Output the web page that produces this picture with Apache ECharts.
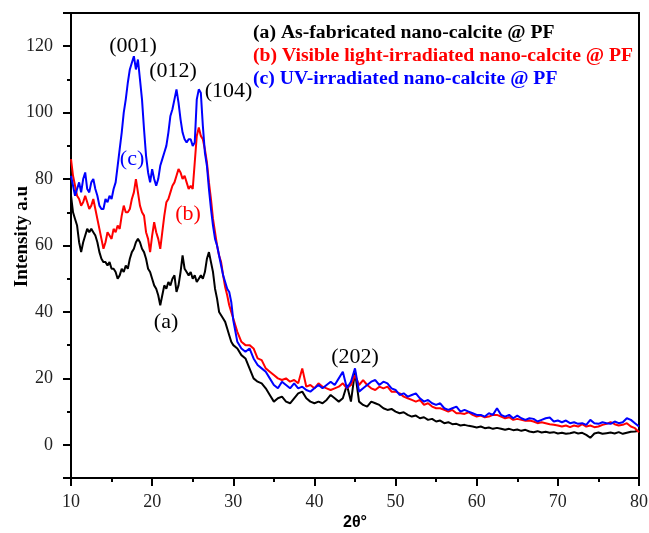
<!DOCTYPE html>
<html><head><meta charset="utf-8">
<script src="https://cdn.jsdelivr.net/npm/echarts@6/dist/echarts.min.js"></script>
<style>html,body{margin:0;padding:0;background:#fff}#chart{width:649px;height:533px}</style>
</head><body><div id="chart"></div>
<script>
// 2θ sampling positions (degrees)
const twoTheta = [
  10,10.25,10.5,10.75, 11,11.25,11.5,11.75, 12,12.25,12.5,12.75, 13,13.25,13.5,13.75,
  14,14.25,14.5,14.75, 15,15.25,15.5,15.75, 16,16.25,16.5,16.75, 17,17.25,17.5,17.75,
  18,18.25,18.5,18.75, 19,19.25,19.5,19.75, 20,20.25,20.5,20.75, 21,21.25,21.5,21.75,
  22,22.25,22.5,22.75, 23,23.25,23.5,23.75, 24,24.25,24.5,24.75, 25,25.25,25.5,25.75,
  26,26.25,26.5,26.75, 27,27.25,27.5,27.75, 28,28.25,28.5,28.75, 29,29.25,29.5,29.75, 30,
  30.5,31,31.5,32,32.5,33,33.5,34,34.5,
  35,35.5,36,36.5,37,37.5,38,38.5,39,39.5,
  40,40.5,41,41.5,42,42.5,43,43.5,44,44.5,
  45,45.5,46,46.5,47,47.5,48,48.5,49,49.5,
  50,50.5,51,51.5,52,52.5,53,53.5,54,54.5,
  55,55.5,56,56.5,57,57.5,58,58.5,59,59.5,
  60,60.5,61,61.5,62,62.5,63,63.5,64,64.5,
  65,65.5,66,66.5,67,67.5,68,68.5,69,69.5,
  70,70.5,71,71.5,72,72.5,73,73.5,74,74.5,
  75,75.5,76,76.5,77,77.5,78,78.5,79,79.5,
  80
];

const seriesNames = [
  '(a) As-fabricated nano-calcite @ PF',
  '(b) Visible light-irradiated nano-calcite @ PF',
  '(c) UV-irradiated nano-calcite @ PF'
];

// (a) As-fabricated
const intensityA = [
  75,70,68,66, 61,58,61,63, 65,64,65,64, 63,61,58,56,
  55,55,54,55, 53,53,52,50, 51,53,52,54, 53,56,58,59,
  61,62,61,59, 58,56,53,52, 50,48,47,45, 42,45,48,47,
  49,48,50,51, 46,48,52,57, 53,52,51,52, 50,51,49,50,
  51,50,52,56, 58,55,52,47, 44,40,39,38, 37,35,33,31, 30,
  29,27,26,23,20,19,18.5,17,15,
  13,14,14.5,13,12.5,14,15.5,16,14,13,
  12.5,13,12.5,13.5,15,14,13,14,18,13,
  22,13,12,11.5,13,12.5,12,11,10.5,10.8,
  10,9.5,9.8,9,8.5,8.8,8,8.3,7.5,7.8,
  7,7.3,6.5,6.8,6.2,6.3,5.8,6,5.7,5.5,
  5.2,5.5,5,5.2,4.8,5.1,4.8,4.5,4.8,4.4,
  4.6,4.2,4.5,4,3.8,4.1,3.7,3.9,3.6,3.8,
  3.4,3.6,3.3,3.5,3.8,3.4,3.6,3,2.1,3.4,
  3.7,3.3,3.5,3.7,3.4,3.8,3.3,3.6,3.9,4,
  4.2
];

// (b) Visible light-irradiated
const intensityB = [
  86,81,78,75, 74,72,73,75, 73,71,72,74, 71,68,65,62,
  59,61,64,63, 62,65,64,66, 65,69,72,70, 70,71,74,76,
  80,76,72,70, 69,64,62,58, 63,67,64,62, 59,64,69,73,
  74,76,78,79, 81,83,82,80, 81,79,77,78, 77,85,93,95.5,
  93,92,89,85, 79,74,68,64, 60,57,55,51, 47.5,45,42,40, 38,
  34,31,30,30,29,26,25.5,23,22,
  21,20,19.5,20,19,19.5,18.5,23,17.5,18,
  17,18.5,17.5,17,16.5,17,17.5,18.5,17,18,
  21,18,19.5,18,17,16.5,17.5,17,17.5,16,
  16,15.5,14.5,14,13.5,13,13.5,12,12.5,11.5,
  11,11,10.5,10,10.5,9.5,9.5,9.3,9.8,9,
  8.5,8.8,8.3,8.5,9,9,8.5,8,8.3,7.5,
  7.8,7.5,7.2,7.3,7,6.5,6.8,6.5,6.2,6,
  5.8,5.5,5.8,5.3,5.8,5.5,6.2,5.5,5.8,5.3,
  5.5,6,6.3,6.8,6.2,5.8,6,6.5,5.5,5,
  3.8
];

// (c) UV-irradiated
const intensityC = [
  81,78,75,77, 79,76,80,82, 77,76,79,80, 77,75,72,71,
  71,74,73,75, 74,77,79,84, 89,94,100,104, 109,113,115,117,
  113,116,110,104, 95,87,82,79, 83,80,78,80, 84,86,88,90,
  94,99,101,104, 107,103,98,94, 92,91,92,92, 90,91,104,107,
  106,96,88,84, 77,71,66,62, 60,57,54,51, 49,47,46,43, 37.5,
  31,29,28,29,26,24,23,22,20,
  18,17,19,18,17,18.5,17,17.5,16.5,16,
  17,18,17,18,19,18,20,22,17,19,
  23,16,17,18,19,19.5,18,19,18.5,17,
  16.5,15,15.5,14.5,15,15.5,14,13,13.5,12.5,
  12,12.5,11,10.5,11,11.5,10,10.5,10,9.5,
  9,9,8.5,9.5,9,11,9,8.5,9,8,
  8.8,8,7.5,8,7.8,7,7.5,8,8.2,7,
  7.3,6.8,7.3,6.5,6.8,6.3,6.5,6,7.5,6.5,
  6.3,6.8,6.5,6.3,7,6.5,6.8,8,7.5,6.5,
  5.5
];

// Peak / curve annotations (anchored in data coordinates); annotationOf = series index or -1 for black
const annotationText = ['(001)', '(012)', '(104)', '(c)', '(b)', '(a)', '(202)'];
const annotationX    = [17.64, 22.57, 29.41, 17.52, 24.42, 21.71, 45.0];
const annotationY    = [120.0, 112.5, 106.4, 85.9, 69.5, 36.9, 26.3];
const annotationOf   = [-1, -1, -1, 2, 1, 0, -1];

const colors = ['#000000', '#ff0000', '#0000ff'];
const serif = '"Liberation Serif", "Times New Roman", serif';

const chart = echarts.init(document.getElementById('chart'), null, {renderer: 'canvas'});
const allSeriesValues = [intensityA, intensityB, intensityC];

const lineSeries = allSeriesValues.map((vals, i) => ({
  name: seriesNames[i],
  type: 'line',
  data: twoTheta.map((x, k) => [x, vals[k]]),
  showSymbol: false,
  symbol: 'none',
  lineStyle: {color: colors[i], width: 2},
  itemStyle: {color: colors[i]},
  z: 2 + i,
  animation: false
}));

const annotationSeries = {
  name: 'annotations',
  type: 'custom',
  silent: true,
  animation: false,
  z: 10,
  data: annotationText.map((t, i) => [annotationX[i], annotationY[i], i]),
  renderItem: (params, api) => {
    const idx = api.value(2);
    const p = api.coord([api.value(0), api.value(1)]);
    return {
      type: 'text',
      x: p[0],
      y: p[1],
      style: {
        text: annotationText[idx],
        fill: annotationOf[idx] >= 0 ? colors[annotationOf[idx]] : '#000',
        font: '22px ' + serif,
        align: 'center',
        verticalAlign: 'middle'
      }
    };
  }
};

chart.setOption({
  backgroundColor: '#fff',
  animation: false,
  grid: {left: 71, right: 10, top: 13, bottom: 55, show: true, borderColor: '#000', borderWidth: 2,
         containLabel: false, outerBoundsMode: 'none'},
  legend: {
    orient: 'vertical',
    left: 248,
    top: 23,
    itemWidth: 0,
    itemHeight: 0,
    itemGap: 3,
    padding: 0,
    selectedMode: false,
    icon: 'rect',
    textStyle: {fontFamily: serif, fontWeight: 'bold', fontSize: 19.7},
    data: seriesNames.map((n, i) => ({name: n, textStyle: {color: colors[i]}}))
  },
  xAxis: {
    type: 'value',
    min: 10, max: 80, interval: 10,
    name: '2θ°',
    nameLocation: 'middle',
    nameGap: 37,
    nameMoveOverlap: false,
    nameTextStyle: {fontFamily: '"Liberation Sans", Arial, sans-serif', fontWeight: 'bold', fontSize: 16, color: '#000'},
    axisLine: {show: true, onZero: false, lineStyle: {color: '#000', width: 2}},
    axisTick: {show: true, inside: false, length: 8, lineStyle: {color: '#000', width: 2}},
    minorTick: {show: true, splitNumber: 2, length: 4, lineStyle: {color: '#000', width: 2}},
    axisLabel: {margin: 15, fontFamily: serif, fontSize: 18, color: '#222'},
    splitLine: {show: false},
    minorSplitLine: {show: false}
  },
  yAxis: [
    {
      type: 'value',
      min: -10, max: 130, interval: 10,
      name: 'Intensity a.u',
      nameLocation: 'middle',
      nameGap: 39,
      nameRotate: 90,
      nameMoveOverlap: false,
      nameTextStyle: {fontFamily: serif, fontWeight: 'bold', fontSize: 19, color: '#000', padding: [0, 0, 0, 18]},
      axisLine: {show: true, onZero: false, lineStyle: {color: '#000', width: 2}},
      axisTick: {show: true, inside: false, length: 4, lineStyle: {color: '#000', width: 2}},
      axisLabel: {
        margin: 18, fontFamily: serif, fontSize: 18, color: '#222',
        formatter: v => (v % 20 === 0 && v >= 0 && v <= 120) ? String(v) : ''
      },
      splitLine: {show: false}
    },
    {
      type: 'value',
      min: -10, max: 130, splitNumber: 7,
      position: 'left',
      axisLine: {show: false, onZero: false},
      axisTick: {show: true, inside: false, length: 8, lineStyle: {color: '#000', width: 2}},
      axisLabel: {show: false},
      splitLine: {show: false}
    }
  ],
  series: [...lineSeries, annotationSeries]
});
</script>
</body></html>
